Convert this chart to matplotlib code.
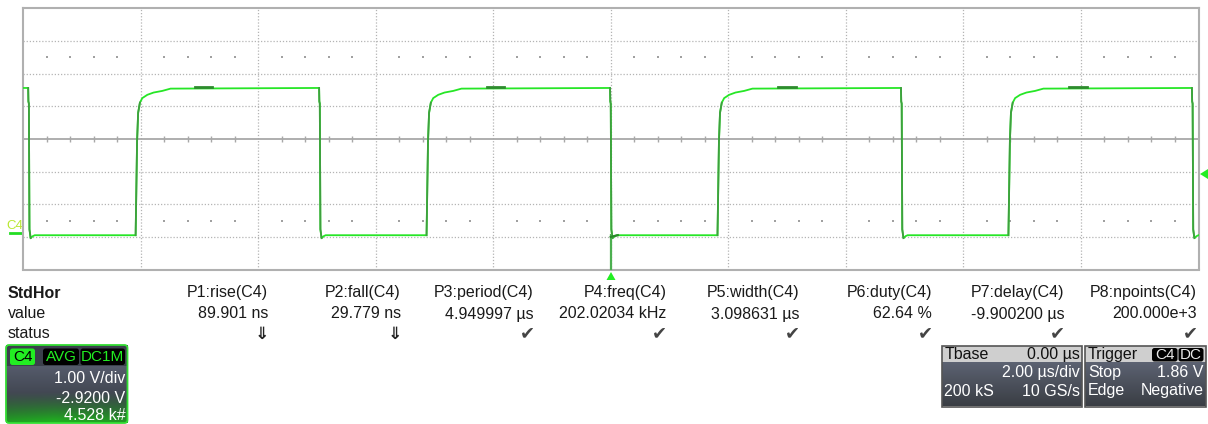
import numpy as np
import matplotlib
matplotlib.use("Agg")
import matplotlib.pyplot as plt
import matplotlib.patches as mpatches

plt.rcParams['font.family'] = ['Liberation Sans', 'DejaVu Sans']

W, H = 1208, 424

# ── Scope settings / readings ────────────────────────────────────────────────
T_PER_DIV = 2.0          # µs/div
V_PER_DIV = 1.0          # V/div
V_OFFSET = 2.92          # volts at screen centre
TRIG_LEVEL = 1.86

V_HIGH = 4.48
V_LOW = -0.03

FALL_T = [-9.90, -4.95, 0.00, 4.95, 9.90]
RISE_T = [-8.05, -3.10, 1.85, 6.80]
TOP_MARK_T = [-7.08, -2.11, 2.85, 7.80]

# edge shapes (µs from edge, volts)
RISE_DT = [-0.034, -0.029, -0.009, 0.009, 0.039, 0.080, 0.165, 0.272, 0.420, 0.561]
RISE_V = [-0.03, 0.52, 2.85, 3.72, 4.03, 4.17, 4.27, 4.34, 4.39, 4.46]
FALL_DT = [-0.012, -0.008, 0.000, 0.010, 0.030, 0.065, 0.100]
FALL_V = [4.48, 4.07, 4.00, 0.15, -0.12, -0.06, -0.03]

PARAM_NAMES = ["P1:rise(C4)", "P2:fall(C4)", "P3:period(C4)", "P4:freq(C4)",
               "P5:width(C4)", "P6:duty(C4)", "P7:delay(C4)", "P8:npoints(C4)"]
PARAM_VALUES = ["89.901 ns", "29.779 ns", "4.949997 µs", "202.02034 kHz",
                "3.098631 µs", "62.64 %", "-9.900200 µs", "200.000e+3"]
PARAM_STATUS = ["⇓", "⇓", "✔", "✔", "✔", "✔", "✔", "✔"]

STYLE = {
    "trace": "#26e626",
    "edge": "#3f9f3f",
    "grid": "#b4b4b4",
    "axis": "#a8a8a8",
    "text": "#1a1a1a",
    "check": "#444444",
}


# ── Helpers ──────────────────────────────────────────────────────────────────

def build_trace():
    events = [(t, "f") for t in FALL_T] + [(t, "r") for t in RISE_T]
    events.sort()
    ts, vs = [-10.0], [V_HIGH]
    for t0, kind in events:
        dts, vv = (RISE_DT, RISE_V) if kind == "r" else (FALL_DT, FALL_V)
        ts += [t0 + d for d in dts]
        vs += list(vv)
    ts.append(10.0)
    vs.append(V_LOW)
    return np.array(ts), np.array(vs)


def vgrad(c_top, c_bot, n=64):
    a = np.array(matplotlib.colors.to_rgb(c_top))
    b = np.array(matplotlib.colors.to_rgb(c_bot))
    f = np.linspace(0, 1, n)[:, None]
    return (a * (1 - f) + b * f)[:, None, :]


def draw_grid(ax):
    xs = np.arange(-10, 10.01, T_PER_DIV)
    ys = V_OFFSET + np.arange(-4, 4.01) * V_PER_DIV
    for x in xs[1:-1]:
        ax.axvline(x, color=STYLE["grid"], lw=0.9, ls=(0, (1, 1.5)), zorder=1)
    for y in ys[1:-1]:
        if abs(y - V_OFFSET) > 1e-6:
            ax.axhline(y, color=STYLE["grid"], lw=0.9, ls=(0, (1, 1.5)), zorder=1)
    ax.axhline(V_OFFSET, color=STYLE["axis"], lw=1.3, zorder=1)

    # sub-division ticks and dots
    sub_x = np.arange(-10, 10.001, T_PER_DIV / 5)
    sub_x = [x for x in sub_x if abs(x / T_PER_DIV - round(x / T_PER_DIV)) > 1e-6]
    ax.vlines(sub_x, V_OFFSET - 0.09, V_OFFSET + 0.09, color=STYLE["axis"], lw=1.0, zorder=1)
    for dy in (-2.5, 2.5):
        ax.scatter(sub_x, [V_OFFSET + dy] * len(sub_x), s=1.2, color="#a0a0a0",
                   marker="s", lw=0, zorder=1)


def draw_trace(ax):
    t, v = build_trace()
    ax.plot(t, v, color=STYLE["trace"], lw=1.3, zorder=5, solid_joinstyle="miter")
    for t0 in RISE_T:
        ax.plot([t0 + d for d in RISE_DT[:5]], RISE_V[:5], color=STYLE["edge"], lw=1.3, zorder=6)
    for t0 in FALL_T:
        ax.plot([t0 + d for d in FALL_DT[:5]], FALL_V[:5], color=STYLE["edge"], lw=1.3, zorder=6)
    for t0 in TOP_MARK_T:
        ax.plot([t0, t0 + 0.30], [V_HIGH + 0.04] * 2, color="#2e8b2e", lw=2.0, zorder=7)
    # trigger edge undershoot and trigger time marker line
    ax.plot([0.0, 0.0], [V_LOW, V_OFFSET - 4], color="#4caf50", lw=1.6, zorder=6,
            clip_on=False)
    ax.plot([0.0, 0.12], [V_LOW - 0.05, V_LOW], color="#2a8a2a", lw=1.6, zorder=6)


def draw_measurements(ov):
    ov.text(8, 297.5, "StdHor", fontsize=11.5, fontweight="bold", color=STYLE["text"],
            va="baseline", ha="left")
    ov.text(8, 318.5, "value", fontsize=11.5, color=STYLE["text"], va="baseline")
    ov.text(8, 338.5, "status", fontsize=11.5, color=STYLE["text"], va="baseline")
    for i, (n, val, st) in enumerate(zip(PARAM_NAMES, PARAM_VALUES, PARAM_STATUS)):
        xr = 268.3 + i * 132.7
        ov.text(xr, 297.5, n, fontsize=11.5, color=STYLE["text"], ha="right", va="baseline")
        ov.text(xr, 318.5, val, fontsize=11.5, color=STYLE["text"], ha="right", va="baseline")
        if st == "⇓":
            ov.text(xr - 6, 338.5, st, fontsize=12.5, color="#222222", ha="center",
                    va="baseline", family="DejaVu Sans", fontweight="bold")
        else:
            ov.text(xr + 1, 338.5, st, fontsize=13, color=STYLE["check"], ha="right",
                    va="baseline", family="DejaVu Sans")


def tag(ov, x0, x1, y0, y1, label, fc, tc):
    ov.add_patch(mpatches.FancyBboxPatch((x0, y0), x1 - x0, y1 - y0,
                                         boxstyle="round,pad=0,rounding_size=2.5",
                                         fc=fc, ec="none", zorder=12))
    ov.text((x0 + x1) / 2, (y0 + y1) / 2 + 0.5, label, fontsize=11, color=tc,
            ha="center", va="center", zorder=13)


def draw_channel_box(ov):
    x0, x1, y0, y1 = 6, 127.5, 345, 423
    hdr = vgrad("#3b404c", "#3b404c", 4)
    ov.imshow(hdr, extent=[x0, x1, 366, y0], aspect="auto", zorder=10)
    n = 80
    f = np.linspace(0, 1, n)[:, None]
    gray = vgrad("#555b6b", "#2e3238", n)[:, 0, :]
    green = np.array(matplotlib.colors.to_rgb("#1fb81f"))
    xs = np.linspace(0, 1, 60)[None, :]
    g = np.clip((f - 0.45) / 0.55, 0, 1) ** 1.3
    g = g * (1 - 0.35 * np.abs(xs - 0.4))
    body = gray[:, None, :] * (1 - g[..., None]) + green * g[..., None]
    ov.imshow(body, extent=[x0, x1, y1, 366], aspect="auto", zorder=10)
    ov.add_patch(mpatches.FancyBboxPatch((x0, y0), x1 - x0, y1 - y0,
                                         boxstyle="round,pad=0,rounding_size=3",
                                         fc="none", ec="#33dd33", lw=1.3, zorder=14))
    tag(ov, 10, 35, 348.5, 365, "C4", "#22ee22", "#000000")
    tag(ov, 43, 79, 348.5, 365, "AVG", "#000000", "#22ee22")
    tag(ov, 80.5, 125, 348.5, 365, "DC1M", "#000000", "#22ee22")
    for y, s in [(383.3, "1.00 V/div"), (402.8, "-2.9200 V"), (420.5, "4.528 k#")]:
        ov.text(125.5, y, s, fontsize=11.5, color="white", ha="right", va="baseline", zorder=13)


def draw_info_box(ov, x0, x1, header_left, header_right_tags, header_right_text, rows):
    y0, yh, y1 = 346, 363, 406.5
    ov.add_patch(mpatches.Rectangle((x0, y0), x1 - x0, yh - y0, fc="#cfcfcf", ec="none",
                                    zorder=10))
    ov.imshow(vgrad("#5c6272", "#3a3e44", 40), extent=[x0, x1, y1, yh], aspect="auto",
              zorder=10)
    ov.add_patch(mpatches.Rectangle((x0, y0), x1 - x0, y1 - y0, fc="none", ec="#555555",
                                    lw=1.2, zorder=14))
    ov.text(x0 + 3, 359.3, header_left, fontsize=11.5, color="#111111", va="baseline",
            zorder=13)
    if header_right_text:
        ov.text(x1 - 2, 359.3, header_right_text, fontsize=11.5, color="#111111",
                ha="right", va="baseline", zorder=13)
    for (tx0, tx1, lab) in header_right_tags:
        tag(ov, tx0, tx1, 348, 361.5, lab, "#000000", "#e8e8e8")
    for y, left, right in rows:
        if left:
            ov.text(x0 + 3, y, left, fontsize=11.5, color="white", va="baseline", zorder=13)
        if right:
            ov.text(x1 - 2, y, right, fontsize=11.5, color="white", ha="right",
                    va="baseline", zorder=13)


# ── Figure ───────────────────────────────────────────────────────────────────
fig = plt.figure(figsize=(W / 100, H / 100), dpi=100)
fig.patch.set_facecolor("white")

ov = fig.add_axes([0, 0, 1, 1])
ov.set_xlim(0, W)
ov.set_ylim(H, 0)
ov.axis("off")

L, R, T, B = 23, 1198.5, 8.3, 269.5
ax = fig.add_axes([L / W, 1 - B / H, (R - L) / W, (B - T) / H])
ax.set_xlim(-5 * T_PER_DIV, 5 * T_PER_DIV)
ax.set_ylim(V_OFFSET - 4 * V_PER_DIV, V_OFFSET + 4 * V_PER_DIV)
ax.set_xticks([])
ax.set_yticks([])
for sp in ax.spines.values():
    sp.set_color("#b0b0b0")
    sp.set_linewidth(1.5)

draw_grid(ax)
draw_trace(ax)

# markers outside the grid
ov.add_patch(mpatches.Polygon([[606.5, 280], [615.5, 280], [611, 272]], closed=True,
                              fc="#22ee22", ec="none"))
trig_y = 139.3 - (TRIG_LEVEL - V_OFFSET) / V_PER_DIV * 32.75
ov.add_patch(mpatches.Polygon([[1200, trig_y], [1208, trig_y - 5], [1208, trig_y + 5]],
                              closed=True, fc="#22ee22", ec="none"))
gnd_y = 139.3 - (0 - V_OFFSET) / V_PER_DIV * 32.75
ov.plot([10, 22], [gnd_y - 2, gnd_y - 2], color="#22dd22", lw=2)
ov.text(6, gnd_y - 5.5, "C4", fontsize=9.5, color="#b8e830", va="baseline")

draw_measurements(ov)
draw_channel_box(ov)
draw_info_box(ov, 941.5, 1081.5, "Tbase", [], "0.00 µs",
              [(376.7, None, "2.00 µs/div"), (395.5, "200 kS", "10 GS/s")])
draw_info_box(ov, 1085, 1205.5, "Trigger", [(1152, 1177.5, "C4"), (1178.5, 1203.5, "DC")],
              None, [(376.7, "Stop", "1.86 V"), (395.5, "Edge", "Negative")])
ov.set_xlim(0, W)
ov.set_ylim(H, 0)

fig.savefig("out.png", dpi=100, facecolor=fig.get_facecolor())
